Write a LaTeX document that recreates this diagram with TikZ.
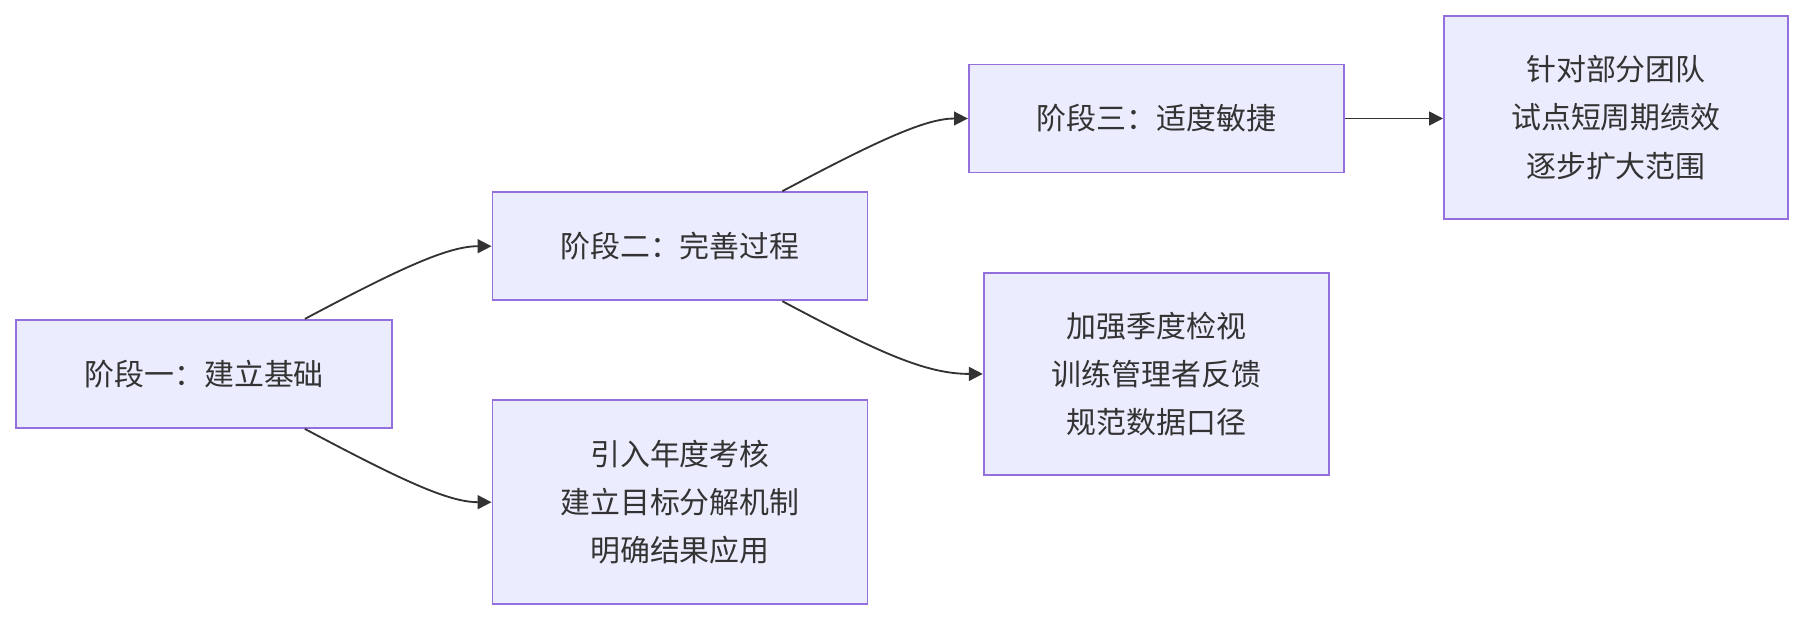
\documentclass[tikz,border=0pt]{standalone}
\usepackage{fontspec}
\setmainfont{Noto Sans CJK SC}
\usetikzlibrary{arrows.meta}
\definecolor{nfill}{HTML}{ECECFF}
\definecolor{nline}{HTML}{9370DB}
\definecolor{eline}{HTML}{333333}
\begin{document}
\begin{tikzpicture}[x=0.5pt,y=-0.5pt,
  box/.style={draw=nline,fill=nfill,line width=0.8pt,inner sep=0pt,align=center,font=\fontsize{13}{21}\selectfont,text=black!80},
  edge/.style={draw=eline,line width=0.8pt,-{Triangle[length=6pt,width=6pt]}}]
\useasboundingbox (0,0) rectangle (1568,539);
\node[box,minimum width=163.5pt,minimum height=47pt] (a) at (177.5,325) {阶段一：建立基础};
\node[box,minimum width=163pt,minimum height=47pt] (b) at (591,214) {阶段二：完善过程};
\node[box,minimum width=163pt,minimum height=88.5pt] (c) at (591,436.5) {引入年度考核\\建立目标分解机制\\明确结果应用};
\node[box,minimum width=163pt,minimum height=47pt] (d) at (1005,103) {阶段三：适度敏捷};
\node[box,minimum width=150pt,minimum height=88pt] (e) at (1005,325) {加强季度检视\\训练管理者反馈\\规范数据口径};
\node[box,minimum width=149.5pt,minimum height=88pt] (f) at (1404.5,102) {针对部分团队\\试点短周期绩效\\逐步扩大范围};
\draw[edge] (a.north -| 265,0) .. controls (350,232) and (390,214) .. (b.west);
\draw[edge] (a.south -| 265,0) .. controls (350,418) and (390,436.5) .. (c.west);
\draw[edge] (b.south -| 680,0) .. controls (765,307) and (805,325) .. (e.west);
\draw[edge] (b.north -| 680,0) .. controls (765,121) and (805,103) .. (d.west);
\draw[edge] (d.east) -- (f.west |- d.east);
\end{tikzpicture}
\end{document}
